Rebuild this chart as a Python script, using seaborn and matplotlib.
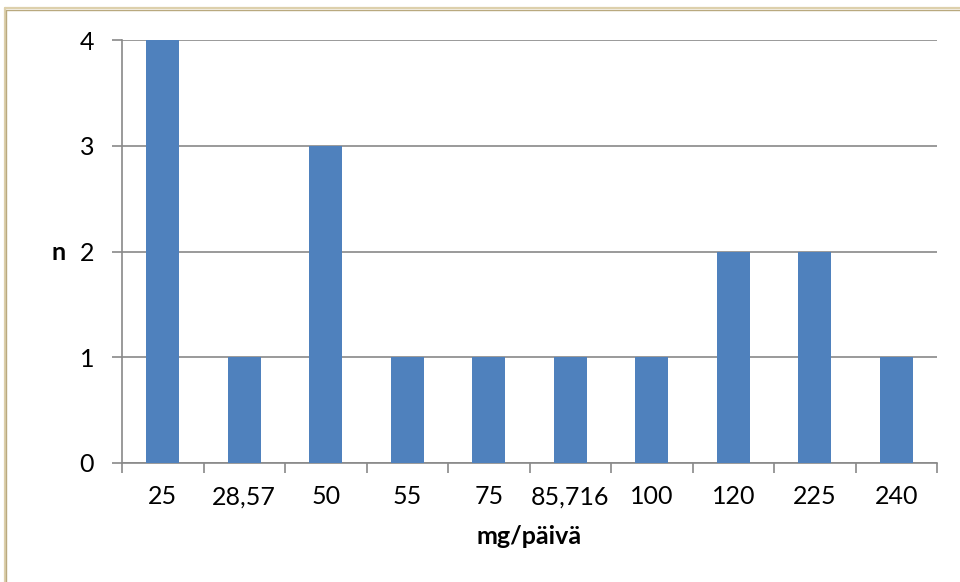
import matplotlib
matplotlib.use("Agg")
import matplotlib.pyplot as plt
from matplotlib.lines import Line2D
from matplotlib.ticker import FixedLocator
import pandas as pd
import seaborn as sns

# Daily dose categories and number of cases in each
doses = ["25", "28,57", "50", "55", "75", "85,716", "100", "120", "225", "240"]
counts = [4, 1, 3, 1, 1, 1, 1, 2, 2, 1]
y_ticks = [0, 1, 2, 3, 4]

df = pd.DataFrame({"dose": doses, "n": counts})

sns.set_theme(style="white")
plt.rcParams["font.family"] = ["Lato", "DejaVu Sans"]

GRID = "#898989"
BAR = "#4F81BD"
FS = 18

fig = plt.figure(figsize=(9.6, 5.82), dpi=100)
ax = fig.add_axes([122 / 960, 1 - 463 / 582, (937 - 122) / 960, (463 - 40) / 582])

sns.barplot(data=df, x="dose", y="n", order=doses, color=BAR, width=0.4,
            saturation=1, linewidth=0, ax=ax, zorder=3)

ax.set_xlim(-0.5, len(doses) - 0.5)
ax.set_ylim(0, 4)
ax.set_yticks(y_ticks)
ax.set_yticklabels([str(v) for v in y_ticks])

# category labels centred, tick marks on the category boundaries
ax.set_xticks(range(len(doses)))
ax.set_xticklabels(doses)
ax.xaxis.set_minor_locator(FixedLocator([i - 0.5 for i in range(len(doses) + 1)]))
ax.tick_params(axis="x", which="major", length=0, pad=16, labelsize=FS, colors="black")
ax.tick_params(axis="x", which="minor", length=7, width=1.2, color=GRID, direction="out", bottom=True)
ax.tick_params(axis="y", which="major", length=7, width=1.2, color=GRID, direction="out",
               pad=13, labelsize=FS, left=True, labelcolor="black")

ax.yaxis.grid(True, color=GRID, linewidth=1.2, zorder=0)
ax.xaxis.grid(False)
ax.set_axisbelow(True)

for side in ("top", "right"):
    ax.spines[side].set_visible(False)
for side in ("left", "bottom"):
    ax.spines[side].set_color(GRID)
    ax.spines[side].set_linewidth(1.2)

ax.set_xlabel("")
ax.set_ylabel("")
fig.text(529.5 / 960, 1 - 536 / 582, "mg/päivä", fontsize=FS, fontweight="bold",
         ha="center", va="center", color="black")
fig.text(59 / 960, 1 - 252 / 582, "n", fontsize=FS, fontweight="bold",
         ha="center", va="center", color="black")

# frame along the top and left edge of the chart area
fig.add_artist(Line2D([4.5 / 960, 1], [1 - 8 / 582, 1 - 8 / 582], color="#DDD0AC",
                      linewidth=1.6, transform=fig.transFigure))
fig.add_artist(Line2D([6 / 960, 1], [1 - 9.6 / 582, 1 - 9.6 / 582], color="#B9A97F",
                      linewidth=1.0, transform=fig.transFigure))
fig.add_artist(Line2D([4.5 / 960, 4.5 / 960], [0, 1 - 8 / 582], color="#DDD0AC",
                      linewidth=1.6, transform=fig.transFigure))
fig.add_artist(Line2D([6 / 960, 6 / 960], [0, 1 - 9.6 / 582], color="#B9A97F",
                      linewidth=1.0, transform=fig.transFigure))

fig.savefig("out.png", dpi=100)
